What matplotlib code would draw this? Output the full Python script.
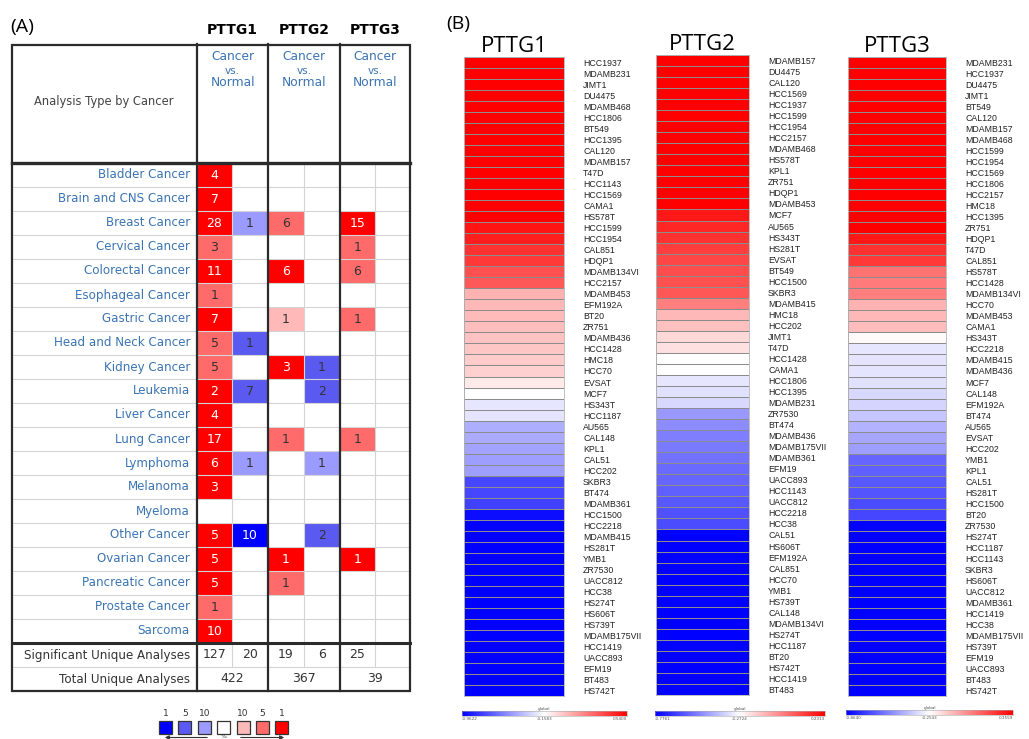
import numpy as np
import matplotlib.pyplot as plt
from matplotlib.colors import LinearSegmentedColormap, TwoSlopeNorm
from matplotlib.patches import Rectangle

# ---- panel A: Oncomine summary table ----
cancer_types = ['Bladder Cancer', 'Brain and CNS Cancer', 'Breast Cancer', 'Cervical Cancer',
                'Colorectal Cancer', 'Esophageal Cancer', 'Gastric Cancer', 'Head and Neck Cancer',
                'Kidney Cancer', 'Leukemia', 'Liver Cancer', 'Lung Cancer', 'Lymphoma', 'Melanoma',
                'Myeloma', 'Other Cancer', 'Ovarian Cancer', 'Pancreatic Cancer', 'Prostate Cancer',
                'Sarcoma']
genes = ['PTTG1', 'PTTG2', 'PTTG3']

# number of analyses (0 = none) and gene rank threshold (top 1/5/10 %)
pttg1_up = [4, 7, 28, 3, 11, 1, 7, 5, 5, 2, 4, 17, 6, 3, 0, 5, 5, 5, 1, 10]
pttg1_up_rank = [1, 1, 1, 5, 1, 5, 1, 5, 5, 1, 1, 1, 1, 1, 0, 1, 1, 1, 5, 1]
pttg1_down = [0, 0, 1, 0, 0, 0, 0, 1, 0, 7, 0, 0, 1, 0, 0, 10, 0, 0, 0, 0]
pttg1_down_rank = [0, 0, 10, 0, 0, 0, 0, 5, 0, 5, 0, 0, 10, 0, 0, 1, 0, 0, 0, 0]
pttg2_up = [0, 0, 6, 0, 6, 0, 1, 0, 3, 0, 0, 1, 0, 0, 0, 0, 1, 1, 0, 0]
pttg2_up_rank = [0, 0, 5, 0, 1, 0, 10, 0, 1, 0, 0, 5, 0, 0, 0, 0, 1, 5, 0, 0]
pttg2_down = [0, 0, 0, 0, 0, 0, 0, 0, 1, 2, 0, 0, 1, 0, 0, 2, 0, 0, 0, 0]
pttg2_down_rank = [0, 0, 0, 0, 0, 0, 0, 0, 5, 5, 0, 0, 10, 0, 0, 5, 0, 0, 0, 0]
pttg3_up = [0, 0, 15, 1, 6, 0, 1, 0, 0, 0, 0, 1, 0, 0, 0, 0, 1, 0, 0, 0]
pttg3_up_rank = [0, 0, 1, 5, 5, 0, 5, 0, 0, 0, 0, 5, 0, 0, 0, 0, 1, 0, 0, 0]
pttg3_down = [0] * 20
pttg3_down_rank = [0] * 20

significant = [(127, 20), (19, 6), (25, None)]
total = [422, 367, 39]

legend_labels = ['1', '5', '10', '', '10', '5', '1']

# ---- panel B: CCLE breast cell line heatmaps ----
pttg1_lines = ['HCC1937', 'MDAMB231', 'JIMT1', 'DU4475', 'MDAMB468', 'HCC1806', 'BT549', 'HCC1395',
               'CAL120', 'MDAMB157', 'T47D', 'HCC1143', 'HCC1569', 'CAMA1', 'HS578T', 'HCC1599',
               'HCC1954', 'CAL851', 'HDQP1', 'MDAMB134VI', 'HCC2157', 'MDAMB453', 'EFM192A', 'BT20',
               'ZR751', 'MDAMB436', 'HCC1428', 'HMC18', 'HCC70', 'EVSAT', 'MCF7', 'HS343T', 'HCC1187',
               'AU565', 'CAL148', 'KPL1', 'CAL51', 'HCC202', 'SKBR3', 'BT474', 'MDAMB361', 'HCC1500',
               'HCC2218', 'MDAMB415', 'HS281T', 'YMB1', 'ZR7530', 'UACC812', 'HCC38', 'HS274T',
               'HS606T', 'HS739T', 'MDAMB175VII', 'HCC1419', 'UACC893', 'EFM19', 'BT483', 'HS742T']
pttg1_vals = [0.5400, 0.5400, 0.5400, 0.5400, 0.5400, 0.5400, 0.5400, 0.5400, 0.5400, 0.5400,
              0.5400, 0.5400, 0.5400, 0.5400, 0.5400, 0.4841, 0.4562, 0.4003, 0.3864, 0.3165,
              0.2956, 0.0512, 0.0372, 0.0302, 0.0163, 0.0093, -0.0047, -0.0186, -0.0326, -0.1024,
              -0.1560, -0.2387, -0.2410, -0.4155, -0.4236, -0.4477, -0.4638, -0.4650, -0.7371, -0.7400,
              -0.7612, -0.9220, -0.9622, -0.9622, -0.9622, -0.9622, -0.9622, -0.9622, -0.9622, -0.9622,
              -0.9622, -0.9622, -0.9622, -0.9622, -0.9622, -0.9622, -0.9622, -0.9622]

pttg2_lines = ['MDAMB157', 'DU4475', 'CAL120', 'HCC1569', 'HCC1937', 'HCC1599', 'HCC1954', 'HCC2157',
               'MDAMB468', 'HS578T', 'KPL1', 'ZR751', 'HDQP1', 'MDAMB453', 'MCF7', 'AU565', 'HS343T',
               'HS281T', 'EVSAT', 'BT549', 'HCC1500', 'SKBR3', 'MDAMB415', 'HMC18', 'HCC202', 'JIMT1',
               'T47D', 'HCC1428', 'CAMA1', 'HCC1806', 'HCC1395', 'MDAMB231', 'ZR7530', 'BT474',
               'MDAMB436', 'MDAMB175VII', 'MDAMB361', 'EFM19', 'UACC893', 'HCC1143', 'UACC812',
               'HCC2218', 'HCC38', 'CAL51', 'HS606T', 'EFM192A', 'CAL851', 'HCC70', 'YMB1', 'HS739T',
               'CAL148', 'MDAMB134VI', 'HS274T', 'HCC1187', 'BT20', 'HS742T', 'HCC1419', 'BT483']
pttg2_vals = [0.2313, 0.2313, 0.2313, 0.2313, 0.2313, 0.2313, 0.2313, 0.2313, 0.2313, 0.2313,
              0.2313, 0.2313, 0.2313, 0.2313, 0.1809, 0.1557, 0.1306, 0.1054, 0.0903, 0.0802,
              0.0701, 0.0600, -0.0205, -0.1314, -0.1465, -0.1968, -0.2120, -0.2700, -0.2750, -0.3228,
              -0.3328, -0.3480, -0.4739, -0.4991, -0.5243, -0.5343, -0.5494, -0.5645, -0.5746, -0.5847,
              -0.5998, -0.6149, -0.6250, -0.7761, -0.7761, -0.7761, -0.7761, -0.7761, -0.7761, -0.7761,
              -0.7761, -0.7761, -0.7761, -0.7761, -0.7761, -0.7761, -0.7761, -0.7761]

pttg3_lines = ['MDAMB231', 'HCC1937', 'DU4475', 'JIMT1', 'BT549', 'CAL120', 'MDAMB157', 'MDAMB468',
               'HCC1599', 'HCC1954', 'HCC1569', 'HCC1806', 'HCC2157', 'HMC18', 'HCC1395', 'ZR751',
               'HDQP1', 'T47D', 'CAL851', 'HS578T', 'HCC1428', 'MDAMB134VI', 'HCC70', 'MDAMB453',
               'CAMA1', 'HS343T', 'HCC2218', 'MDAMB415', 'MDAMB436', 'MCF7', 'CAL148', 'EFM192A',
               'BT474', 'AU565', 'EVSAT', 'HCC202', 'YMB1', 'KPL1', 'CAL51', 'HS281T', 'HCC1500',
               'BT20', 'ZR7530', 'HS274T', 'HCC1187', 'HCC1143', 'SKBR3', 'HS606T', 'UACC812',
               'MDAMB361', 'HCC1419', 'HCC38', 'MDAMB175VII', 'HS739T', 'EFM19', 'UACC893', 'BT483',
               'HS742T']
pttg3_vals = [0.3559, 0.3559, 0.3559, 0.3559, 0.3559, 0.3559, 0.3559, 0.3559, 0.3559, 0.3559,
              0.3559, 0.3559, 0.3559, 0.3559, 0.3559, 0.3559, 0.2949, 0.2339, 0.2217, 0.0813,
              0.0630, 0.0508, -0.0712, -0.0834, -0.0956, -0.2421, -0.3153, -0.3180, -0.3200, -0.3275,
              -0.3458, -0.3580, -0.3884, -0.4372, -0.4677, -0.4860, -0.6201, -0.6323, -0.6506, -0.6628,
              -0.6811, -0.6933, -0.8640, -0.8640, -0.8640, -0.8640, -0.8640, -0.8640, -0.8640, -0.8640,
              -0.8640, -0.8640, -0.8640, -0.8640, -0.8640, -0.8640, -0.8640, -0.8640]

# colour bar range (min, centre, max)
pttg1_range = (-0.9622, -0.1583, 0.5400)
pttg2_range = (-0.7761, -0.2724, 0.2313)
pttg3_range = (-0.8640, -0.2543, 0.3559)


W, H = 1029, 739
fig = plt.figure(figsize=(W / 100, H / 100), dpi=100)
base = fig.add_axes([0, 0, 1, 1])
base.set_xlim(0, W)
base.set_ylim(H, 0)
base.axis('off')


def px_box(x0, y0, x1, y1):
    return [x0 / W, 1 - y1 / H, (x1 - x0) / W, (y1 - y0) / H]


tfont = 'DejaVu Sans'
blue_txt = '#3b74b3'
up_colors = {1: '#ff0000', 5: '#ff6a6a', 10: '#ffb9b9'}
down_colors = {1: '#0000ff', 5: '#5a5af0', 10: '#9a9aff'}

left, right = 12, 410
top, head_bottom = 45, 163
row_h = 24
n_rows = len(cancer_types)
sig_top = head_bottom + n_rows * row_h
tot_top = sig_top + row_h
bottom = tot_top + row_h
gene_x = [(197, 232, 268), (268, 304, 340), (340, 375, 410)]

base.text(10, 27, '(A)', fontsize=14, family='Open Sans', va='center', ha='left')
base.text(104, 101, 'Analysis Type by Cancer', fontsize=8.3, family=tfont, color='#444',
          ha='center', va='center')

for i, name in enumerate(cancer_types):
    base.text(190, head_bottom + (i + 0.5) * row_h, name, fontsize=8.6, family=tfont,
              color=blue_txt, ha='right', va='center')

gene_data = [(pttg1_up, pttg1_up_rank, pttg1_down, pttg1_down_rank),
             (pttg2_up, pttg2_up_rank, pttg2_down, pttg2_down_rank),
             (pttg3_up, pttg3_up_rank, pttg3_down, pttg3_down_rank)]

for g, (x0, xm, x1) in enumerate(gene_x):
    base.text((x0 + x1) / 2, 30, genes[g], fontsize=10, fontweight='bold', family=tfont,
              ha='center', va='center')
    cx = (x0 + x1) / 2
    base.text(cx, 57, 'Cancer', fontsize=8.8, family=tfont, color=blue_txt, ha='center', va='center')
    base.text(cx, 71, 'vs.', fontsize=7.5, family=tfont, color=blue_txt, ha='center', va='center')
    base.text(cx, 83, 'Normal', fontsize=8.8, family=tfont, color=blue_txt, ha='center', va='center')

    ups, up_rank, downs, down_rank = gene_data[g]
    for i in range(n_rows):
        y = head_bottom + i * row_h
        for cnt, rk, xa, xb, pal in [(ups[i], up_rank[i], x0, xm, up_colors),
                                     (downs[i], down_rank[i], xm, x1, down_colors)]:
            if cnt:
                base.add_patch(Rectangle((xa, y), xb - xa, row_h, fc=pal[rk], ec='none', zorder=1))
                base.text((xa + xb) / 2, y + row_h / 2 + 0.5, str(cnt), fontsize=9, family=tfont,
                          color='white' if rk == 1 else '#333', ha='center', va='center', zorder=3)

    s_up, s_down = significant[g]
    base.text((x0 + xm) / 2, sig_top + row_h / 2, str(s_up), fontsize=9, family=tfont,
              color='#333', ha='center', va='center')
    if s_down is not None:
        base.text((xm + x1) / 2, sig_top + row_h / 2, str(s_down), fontsize=9, family=tfont,
                  color='#333', ha='center', va='center')
    base.text(cx, tot_top + row_h / 2, str(total[g]), fontsize=9, family=tfont,
              color='#333', ha='center', va='center')
    # thin split between up / down columns
    base.plot([xm, xm], [head_bottom, tot_top], color='#d4d4d4', lw=0.8, zorder=2)

base.text(190, sig_top + row_h / 2, 'Significant Unique Analyses', fontsize=8.6, family=tfont,
          color='#333', ha='right', va='center')
base.text(190, tot_top + row_h / 2, 'Total Unique Analyses', fontsize=8.6, family=tfont,
          color='#333', ha='right', va='center')

# light row grid
for i in range(1, n_rows + 2):
    y = head_bottom + i * row_h
    if y != sig_top:
        base.plot([left, right], [y, y], color='#d4d4d4', lw=0.8, zorder=2)

# heavy borders
heavy = dict(color='#2b2b2b', lw=1.6, zorder=4)
base.add_patch(Rectangle((left, top), right - left, bottom - top, fill=False, ec='#2b2b2b',
                         lw=1.6, zorder=4))
for xv in [197, 268, 340]:
    base.plot([xv, xv], [top - 1, bottom], **heavy)
base.plot([left, right], [head_bottom, head_bottom], color='#2b2b2b', lw=2.4, zorder=4)
base.plot([left, right], [sig_top, sig_top], color='#2b2b2b', lw=2.2, zorder=4)

# rank legend under the table
legend_colors = ['#0000ff', '#5a5af0', '#9a9aff', '#ffffff', '#ffb9b9', '#ff6a6a', '#ff0000']
for i, (lab, col) in enumerate(zip(legend_labels, legend_colors)):
    lx = 159 + i * 19.4
    base.add_patch(Rectangle((lx, 721), 13, 13, fc=col, ec='#333', lw=0.9))
    base.text(lx + 6.5, 713, lab, fontsize=6.5, family=tfont, color='#333', ha='center', va='center')
base.annotate('', xy=(162, 737.5), xytext=(210, 737.5),
              arrowprops=dict(arrowstyle='-|>', lw=0.8, color='#333', mutation_scale=6))
base.annotate('', xy=(287, 737.5), xytext=(238, 737.5),
              arrowprops=dict(arrowstyle='-|>', lw=0.8, color='#333', mutation_scale=6))
base.text(224, 736, '%', fontsize=4.5, family=tfont, color='#333', ha='center', va='center')

# ---- panel B ----
base.text(446, 24, '(B)', fontsize=14, family='Open Sans', va='center', ha='left')

cmap = LinearSegmentedColormap.from_list('bwr_global', ['#0000ff', '#ffffff', '#ff0000'])

panels = [('PTTG1', pttg1_lines, pttg1_vals, pttg1_range, (464, 57, 564, 696), (462, 711, 627, 716)),
          ('PTTG2', pttg2_lines, pttg2_vals, pttg2_range, (656, 55, 749, 695), (655, 711, 825, 716)),
          ('PTTG3', pttg3_lines, pttg3_vals, pttg3_range, (848, 57, 946, 696), (846, 710, 1013, 715))]

for name, lines, vals, (lo, mid, hi), box, cbox in panels:
    ax = fig.add_axes(px_box(*box))
    norm = TwoSlopeNorm(vcenter=mid, vmin=lo, vmax=hi)
    mesh = ax.pcolormesh(np.array(vals).reshape(-1, 1), cmap=cmap, norm=norm,
                         edgecolors='#8c8c8c', linewidth=0.6)
    ax.set_xlim(0, 1)
    ax.set_ylim(len(vals), 0)
    ax.set_xticks([])
    ax.set_yticks(np.arange(len(vals)) + 0.5)
    ax.set_yticklabels(lines, fontsize=6.3, family='Liberation Sans', color='#222')
    ax.yaxis.tick_right()
    ax.tick_params(axis='y', length=0, pad=13.7)
    for sp in ax.spines.values():
        sp.set_color('#b5b5b5')
        sp.set_linewidth(0.6)
    ax.set_title(name, fontsize=16, family='Open Sans', pad=3)

    cax = fig.add_axes(px_box(*cbox))
    cb = fig.colorbar(mesh, cax=cax, orientation='horizontal')
    cb.set_ticks([lo, mid, hi])
    cb.set_ticklabels(['%.4f' % v for v in (lo, mid, hi)])
    cax.tick_params(labelsize=3, length=0, pad=1, colors='#555')
    tl = cax.get_xticklabels()
    tl[0].set_ha('left')
    tl[-1].set_ha('right')
    cb.outline.set_edgecolor('#aaaaaa')
    cb.outline.set_linewidth(0.4)
    cax.set_title('global', fontsize=3, pad=1, color='#555')

fig.savefig('out.png', dpi=100)
